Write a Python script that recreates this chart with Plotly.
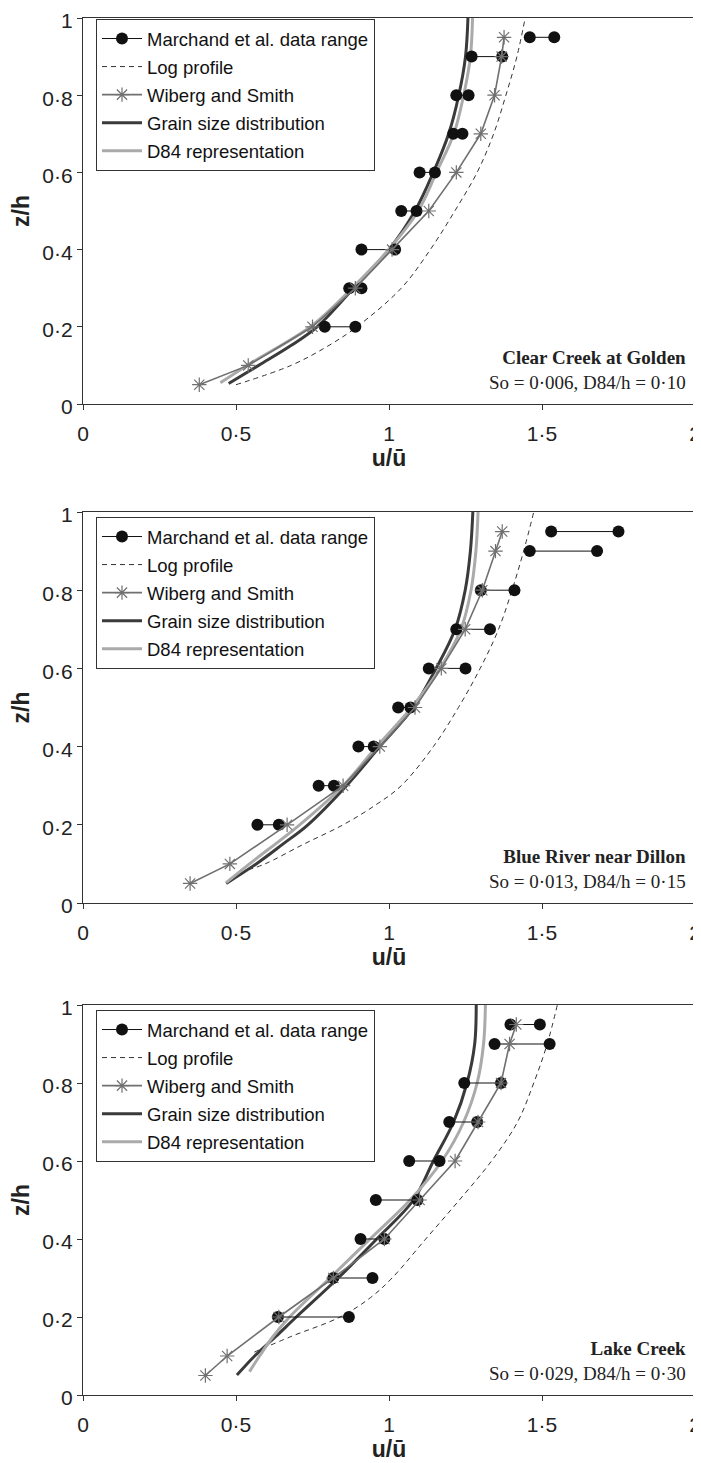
import plotly.graph_objects as go

# ---------------- data ----------------
XTICKS = [0, 0.5, 1, 1.5, 2]
XTICKTEXT = ["0", "0·5", "1", "1·5", "2"]
YTICKS = [0, 0.2, 0.4, 0.6, 0.8, 1]
YTICKTEXT = ["0", "0·2", "0·4", "0·6", "0·8", "1"]

Z_MARCH = [0.2, 0.3, 0.4, 0.5, 0.6, 0.7, 0.8, 0.9, 0.95]
Z_WIB = [0.05, 0.1, 0.2, 0.3, 0.4, 0.5, 0.6, 0.7, 0.8, 0.9, 0.95]

# Panel 1: Clear Creek at Golden
cc_left = [0.79, 0.87, 0.91, 1.04, 1.10, 1.21, 1.22, 1.27, 1.46]
cc_right = [0.89, 0.91, 1.02, 1.09, 1.15, 1.24, 1.26, 1.37, 1.54]
cc_wib = [0.38, 0.54, 0.75, 0.89, 1.01, 1.13, 1.22, 1.30, 1.345, 1.368, 1.376]
cc_grain_z = [0.053, 0.1, 0.15, 0.2, 0.3, 0.4, 0.5, 0.6, 0.7, 0.8, 0.9, 1.0]
cc_grain = [0.476, 0.574, 0.677, 0.765, 0.884, 1.0, 1.085, 1.145, 1.195, 1.228, 1.25, 1.258]
cc_d84_z = [0.055, 0.1, 0.2, 0.3, 0.4, 0.5, 0.6, 0.7, 0.8, 0.9, 1.0]
cc_d84 = [0.449, 0.536, 0.743, 0.879, 0.999, 1.095, 1.155, 1.212, 1.244, 1.266, 1.273]
cc_log_z = [0.05, 0.1, 0.15, 0.2, 0.3, 0.4, 0.5, 0.6, 0.7, 0.8, 0.9, 1.0]
cc_log = [0.50, 0.68, 0.80, 0.895, 1.04, 1.135, 1.215, 1.288, 1.342, 1.382, 1.418, 1.445]

# Panel 2: Blue River near Dillon
br_left = [0.57, 0.77, 0.90, 1.03, 1.13, 1.22, 1.30, 1.46, 1.53]
br_right = [0.64, 0.82, 0.95, 1.07, 1.25, 1.33, 1.41, 1.68, 1.75]
br_wib = [0.35, 0.48, 0.667, 0.85, 0.97, 1.085, 1.171, 1.249, 1.305, 1.348, 1.37]
br_grain_z = [0.05, 0.1, 0.15, 0.2, 0.3, 0.4, 0.5, 0.6, 0.7, 0.8, 0.9, 1.0]
br_grain = [0.468, 0.566, 0.652, 0.735, 0.861, 0.970, 1.08, 1.154, 1.216, 1.249, 1.266, 1.274]
br_d84_z = [0.052, 0.1, 0.2, 0.3, 0.4, 0.5, 0.6, 0.7, 0.8, 0.9, 1.0]
br_d84 = [0.468, 0.544, 0.708, 0.85, 0.96, 1.074, 1.167, 1.235, 1.268, 1.284, 1.291]
br_log_z = [0.085, 0.1, 0.15, 0.2, 0.25, 0.3, 0.4, 0.5, 0.6, 0.7, 0.8, 0.9, 1.0]
br_log = [0.54, 0.595, 0.72, 0.85, 0.955, 1.04, 1.145, 1.227, 1.298, 1.358, 1.402, 1.44, 1.473]

# Panel 3: Lake Creek
lc_left = [0.637, 0.818, 0.907, 0.957, 1.066, 1.197, 1.246, 1.345, 1.397]
lc_right = [0.869, 0.946, 0.985, 1.093, 1.165, 1.288, 1.366, 1.525, 1.493]
lc_wib = [0.40, 0.471, 0.64, 0.818, 0.985, 1.10, 1.216, 1.291, 1.366, 1.394, 1.416]
lc_grain_z = [0.051, 0.1, 0.15, 0.2, 0.3, 0.4, 0.5, 0.6, 0.7, 0.8, 0.9, 1.0]
lc_grain = [0.503, 0.561, 0.63, 0.697, 0.834, 0.96, 1.08, 1.145, 1.211, 1.255, 1.28, 1.285]
lc_d84_z = [0.06, 0.1, 0.15, 0.2, 0.3, 0.4, 0.5, 0.6, 0.7, 0.8, 0.9, 1.0]
lc_d84 = [0.544, 0.577, 0.621, 0.675, 0.807, 0.938, 1.069, 1.173, 1.244, 1.288, 1.309, 1.315]
lc_log_z = [0.11, 0.15, 0.2, 0.25, 0.3, 0.4, 0.5, 0.6, 0.7, 0.8, 0.9, 1.0]
lc_log = [0.56, 0.68, 0.84, 0.94, 1.01, 1.12, 1.23, 1.335, 1.42, 1.473, 1.517, 1.55]

PANELS = [
    dict(name="Clear Creek at Golden", info="So = 0·006, D84/h = 0·10",
         left=cc_left, right=cc_right, wib=cc_wib,
         gz=cc_grain_z, g=cc_grain, dz=cc_d84_z, d=cc_d84, lz=cc_log_z, l=cc_log),
    dict(name="Blue River near Dillon", info="So = 0·013, D84/h = 0·15",
         left=br_left, right=br_right, wib=br_wib,
         gz=br_grain_z, g=br_grain, dz=br_d84_z, d=br_d84, lz=br_log_z, l=br_log),
    dict(name="Lake Creek", info="So = 0·029, D84/h = 0·30",
         left=lc_left, right=lc_right, wib=lc_wib,
         gz=lc_grain_z, g=lc_grain, dz=lc_d84_z, d=lc_d84, lz=lc_log_z, l=lc_log),
]

# ---------------- layout geometry ----------------
# the page body has an 8px default margin, so figure coords = screen coords - 8
OFF = 8
W, H = 701, 1463
BOX_L, BOX_R, BOX_T, BOX_B = 83, 695, 14, 1395          # screen px of whole plotting band
ML, MR = BOX_L - OFF, W - (BOX_R - OFF)
MT, MB = BOX_T - OFF, H - (BOX_B - OFF)
PLOT_H = H - MT - MB
PLOT_W = W - ML - MR
panel_px = [(18, 404), (512, 903), (1005, 1395)]  # screen top, bottom (px)
legend_top = [19, 517, 1010]

def frac(py):
    return (BOX_B - py) / PLOT_H

SANS = "Liberation Sans, Arial, sans-serif"
SERIF = "Liberation Serif, Times New Roman, serif"

fig = go.Figure()

for i, p in enumerate(PANELS):
    sfx = "" if i == 0 else str(i + 1)
    xa, ya = "x" + sfx, "y" + sfx
    lg = "legend" + sfx
    mx, my = [], []
    for zl, a, b in zip(Z_MARCH, p["left"], p["right"]):
        mx += [a, b, None]
        my += [zl, zl, None]
    fig.add_trace(go.Scatter(x=p["l"], y=p["lz"], mode="lines", name="Log profile",
                             line=dict(color="#333333", width=1, dash="5px,4px", shape="spline"),
                             xaxis=xa, yaxis=ya, legend=lg, legendrank=2, legendgroup=f"l{i}"))
    fig.add_trace(go.Scatter(x=p["g"], y=p["gz"], mode="lines", name="Grain size distribution",
                             line=dict(color="#3a3a3a", width=3, shape="spline"),
                             xaxis=xa, yaxis=ya, legend=lg, legendrank=4, legendgroup=f"g{i}"))
    fig.add_trace(go.Scatter(x=p["d"], y=p["dz"], mode="lines", name="D84 representation",
                             line=dict(color="#aaaaaa", width=3, shape="spline"),
                             xaxis=xa, yaxis=ya, legend=lg, legendrank=5, legendgroup=f"d{i}"))
    fig.add_trace(go.Scatter(x=mx, y=my, mode="lines+markers", name="Marchand et al. data range",
                             line=dict(color="#111111", width=1),
                             marker=dict(color="#111111", size=12, symbol="circle"),
                             xaxis=xa, yaxis=ya, legend=lg, legendrank=1, legendgroup=f"m{i}"))
    fig.add_trace(go.Scatter(x=p["wib"], y=Z_WIB, mode="lines+markers", name="Wiberg and Smith",
                             line=dict(color="#707070", width=1.6),
                             marker=dict(symbol="asterisk-open", size=12,
                                         line=dict(width=1.2, color="#707070")),
                             xaxis=xa, yaxis=ya, legend=lg, legendrank=3, legendgroup=f"w{i}"))

    top, bot = panel_px[i]
    axis_common = dict(showgrid=False, zeroline=False, showline=True, mirror=True,
                       linecolor="#333333", linewidth=1.3, ticks="outside", ticklen=5,
                       tickcolor="#333333", automargin=False, ticklabeloverflow="allow",
                       tickfont=dict(family=SANS, size=21, color="#222"))
    fig.update_layout(**{
        ("xaxis" + sfx): dict(axis_common, range=[0, 2], tickvals=XTICKS, ticktext=XTICKTEXT,
                              anchor=ya, domain=[0, 1], ticklabelstandoff=6,
                              title=dict(text="<b>u/ū</b>", standoff=2,
                                         font=dict(family=SANS, size=23, color="#222"))),
        ("yaxis" + sfx): dict(axis_common, range=[0, 1], tickvals=YTICKS, ticktext=YTICKTEXT,
                              anchor=xa, domain=[frac(bot), frac(top)], ticklabelshift=3,
                              title=dict(text="<b>z/h</b>", standoff=12,
                                         font=dict(family=SANS, size=23, color="#222"))),
        lg: dict(x=(96 - BOX_L) / PLOT_W, y=frac(legend_top[i]), xanchor="left", yanchor="top",
                 bordercolor="#333333", borderwidth=1, bgcolor="white",
                 font=dict(family=SANS, size=18.5, color="#111"),
                 itemwidth=40, tracegroupgap=1, traceorder="grouped"),
    })
    fig.add_annotation(xref=xa + " domain", yref=ya + " domain", x=0.988, y=0.088,
                       xanchor="right", yanchor="middle", align="right", showarrow=False,
                       text="<b>" + p["name"] + "</b><br>" + p["info"],
                       font=dict(family=SERIF, size=19, color="#222"))

fig.update_layout(width=W, height=H, margin=dict(l=ML, r=MR, t=MT, b=MB, autoexpand=False),
                  paper_bgcolor="white", plot_bgcolor="white", showlegend=True)

fig.write_html("out.html")
